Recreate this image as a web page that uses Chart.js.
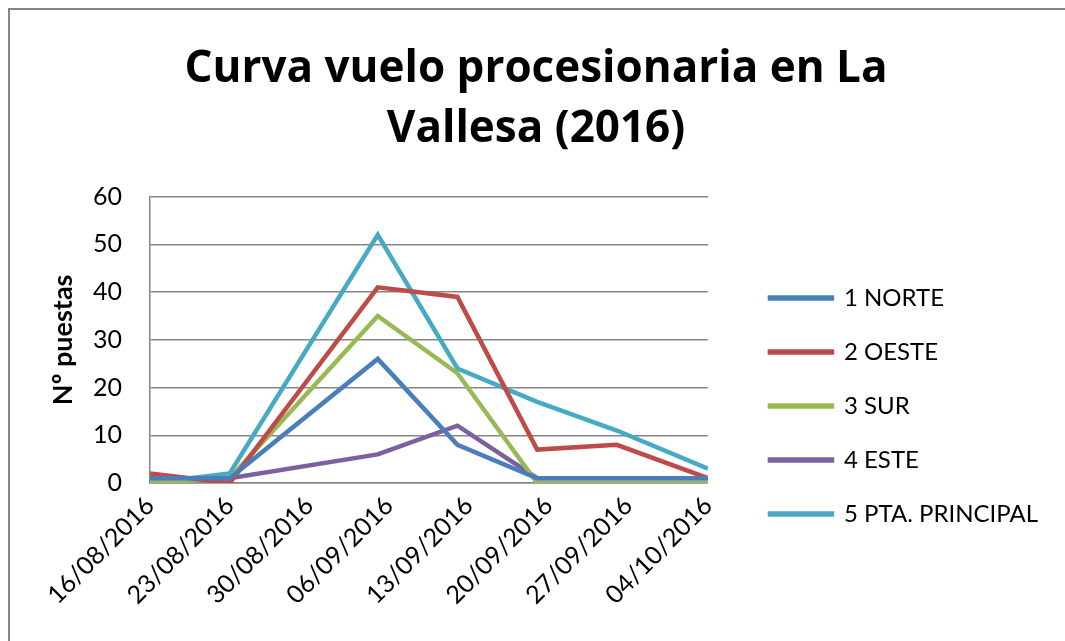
<!DOCTYPE html>
<html>
<head>
<meta charset="utf-8">
<script src="https://cdn.jsdelivr.net/npm/chart.js@4.4.1/dist/chart.umd.min.js"></script>
<style>
  html, body { margin: 0; padding: 0; background: #fff; overflow: hidden; }
  #frame {
    position: absolute; left: 8px; top: 8px; width: 1200px; height: 700px;
    border-left: 2px solid #868686; border-top: 2px solid #868686;
  }
  #chart { position: absolute; left: 0; top: 0; }
</style>
</head>
<body>
<div id="frame"></div>
<canvas id="chart"></canvas>
<script>
const chartTitle = ["Curva vuelo procesionaria en La", "Vallesa (2016)"];
const yTitle = "Nº puestas";
// weekly date axis, one label every 7 days from 16/08/2016
const dates = ["16/08/2016", "23/08/2016", "30/08/2016", "06/09/2016",
  "13/09/2016", "20/09/2016", "27/09/2016", "04/10/2016"];
const yTicks = { min: 0, max: 60, step: 10 };

// sampling days, counted from 16/08/2016 (16/08, 23/08, 05/09, 12/09, 19/09, 26/09, 04/10)
const sampleDays = [0, 7, 20, 27, 34, 41, 49];
const seriesNames = ["1 NORTE", "2 OESTE", "3 SUR", "4 ESTE", "5 PTA. PRINCIPAL"];
const norte = [1, 1, 26, 8, 1, 1, 1];
const oeste = [2, 0, 41, 39, 7, 8, 1];
const sur = [0, 1, 35, 23, 0, 0, 0];
const este = [0, 1, 6, 12, 1, 1, 1];
const principal = [0, 2, 52, 24, 17, 11, 3];
const colors = ["#4a7ebb", "#be4b48", "#98b954", "#7d60a0", "#46aac5"];

const legendFont = 24;
const legendPad = 30;
const legendBox = 62;
const legendLeft = 708 + 32; // plot ends at 708, dummy axis adds the gap

const canvas = document.getElementById("chart");
canvas.width = 1080;
canvas.height = 641;

Chart.defaults.font.family = "Lato";
Chart.defaults.color = "#000";

const allSeries = [norte, oeste, sur, este, principal];

const chart = new Chart(canvas.getContext("2d"), {
  type: "line",
  data: {
    datasets: allSeries.map((values, i) => ({
      label: seriesNames[i],
      data: values.map((v, j) => ({ x: sampleDays[j], y: v })),
      borderColor: colors[i],
      backgroundColor: colors[i],
      borderWidth: 4.5,
      pointRadius: 0,
      tension: 0,
      yAxisID: "y",
    })),
  },
  options: {
    responsive: false,
    maintainAspectRatio: false,
    animation: false,
    layout: { padding: { left: 24 } },
    plugins: {
      title: {
        display: true,
        text: chartTitle,
        font: { family: "Open Sans", size: 44, weight: "bold", lineHeight: 1.36 },
        color: "#000",
        padding: { top: 40, bottom: 37 },
      },
      legend: {
        position: "right",
        align: "start",
        maxWidth: 600,
        title: {
          display: true,
          text: "",
          font: { size: 10, lineHeight: 1 },
          padding: { top: 246, bottom: 0 },
        },
        labels: {
          font: { size: legendFont },
          boxWidth: legendBox,
          boxHeight: 1,
          padding: legendPad,
          color: "#000",
        },
      },
      tooltip: { enabled: false },
    },
    scales: {
      x: {
        type: "linear",
        min: 0,
        max: (dates.length - 1) * 7,
        grid: { display: false, drawTicks: false },
        border: { color: "#868686", width: 1.5 },
        ticks: {
          stepSize: 7,
          callback: (v) => dates[Math.round(v / 7)],
          font: { size: 25 },
          maxRotation: 45,
          minRotation: 45,
          autoSkip: false,
          padding: 8,
        },
        afterFit: (s) => { s.height = 641 - 483; },
      },
      y: {
        min: yTicks.min,
        max: yTicks.max,
        grid: { color: "#868686", lineWidth: 1.5, drawTicks: false },
        border: { color: "#868686", width: 1.5 },
        ticks: { stepSize: yTicks.step, font: { size: 25 }, padding: 28 },
        title: {
          display: true,
          text: yTitle,
          font: { size: 27, weight: "bold", lineHeight: 1.2 },
          padding: { top: 23, bottom: 0 },
        },
        afterFit: (s) => { s.width = 126; },
      },
      yR: {
        position: "right",
        grid: { display: false, drawTicks: false },
        border: { display: false },
        ticks: { display: false },
        afterFit: (s) => { s.width = 32; },
      },
    },
  },
});

// widen or narrow the canvas so the legend starts where it does in the original
const shift = Math.round(legendLeft - chart.legend.left);
if (shift !== 0) chart.resize(canvas.width + shift, 641);
</script>
</body>
</html>
